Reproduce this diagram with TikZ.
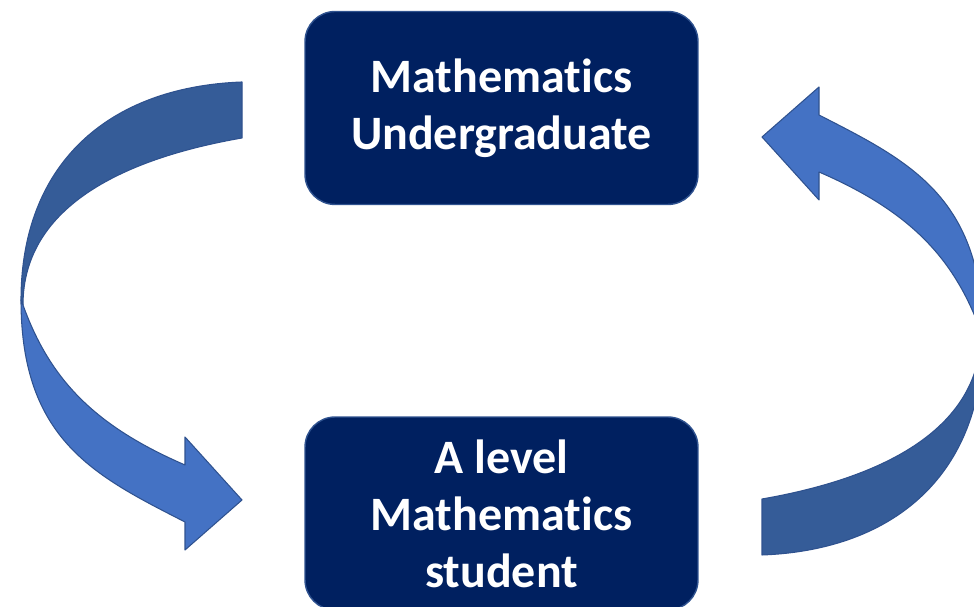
\documentclass[tikz,border=0pt]{standalone}
\usepackage{fontspec}
\setmainfont{Carlito}[RawFeature={-liga;-dlig}]
\usetikzlibrary{calc}
\definecolor{BOX}{HTML}{002060}
\definecolor{BOXLINE}{HTML}{2F528F}
\definecolor{FRONT}{HTML}{4472C4}
\definecolor{BACK}{HTML}{355C98}
\definecolor{EDGE}{HTML}{2F528F}
\tikzset{
  stage/.style={% Style for the two stage boxes
      rectangle, rounded corners=0.6cm,
      line width=0.8pt,
      align=center,
      text=white,
      font=\fontsize{27.3}{32.4}\selectfont\bfseries,
      minimum width=7.86cm,
      minimum height=3.86cm,
      fill=BOX,
      draw=BOXLINE,
  },
  back/.style={% Style for the far half of a band
      fill=BACK, draw=EDGE, line width=0.6pt, line join=round},
  front/.style={% Style for the near half, with the head
      fill=FRONT, draw=EDGE, line width=0.6pt, line join=round},
}
\def\curvedarrow#1{%
  \begin{scope}[#1]
      \draw[back] (242,525) .. controls (107,520) and (21,442) .. (21,307) -- (23,302)
        .. controls (23,402) and (127,449) .. (242,469) -- cycle; % thins to a point
      \draw[front] (21,307) .. controls (21,167) and (95,131) .. (185,85)
        -- (185,57) -- (242,107) -- (185,170) -- (185,142)
        .. controls (95,181) and (50,227) .. (23,302) -- cycle; % head
  \end{scope}
}

\begin{document}
\begin{tikzpicture}[x=0.02cm, y=0.02cm]
      \useasboundingbox (0,0) rectangle (974,607);
      \clip (0,0) rectangle (974,607);
      \curvedarrow{}
      \curvedarrow{rotate around={180:(502,288.5)}}
      \node[stage] (ugrad) at (501.5,499) {Mathematics\\Undergraduate};
      \node[stage] (alevel) at (501.5,93.5) {A level\\Mathematics\\student};
\end{tikzpicture}
\end{document}
